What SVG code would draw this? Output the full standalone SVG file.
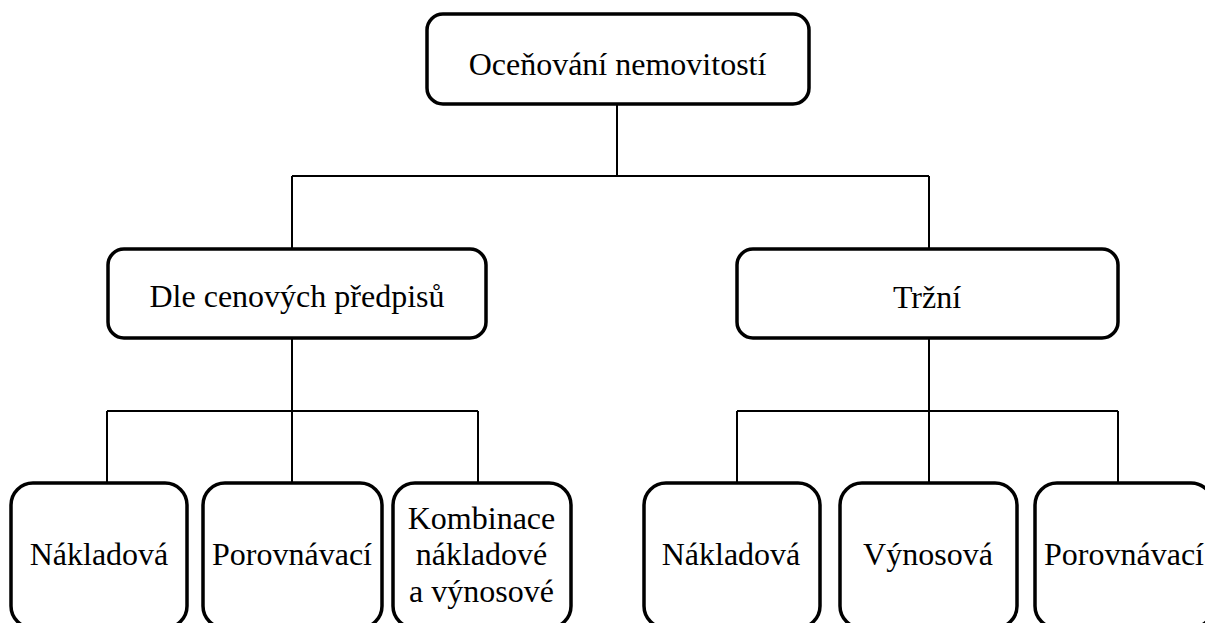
<svg xmlns="http://www.w3.org/2000/svg" width="1205" height="623" viewBox="0 0 1205 623">
<style>
.box{fill:#fff;stroke:#000;stroke-width:3.5}
.lbl{font-family:"Liberation Serif","Times New Roman",serif;font-size:32px;fill:#000;text-anchor:middle}
.con{fill:none;stroke:#000;stroke-width:2}
</style>
<rect width="1205" height="623" fill="#fff"/>
<g id="connectors">
<path class="con" d="M617 104V176M292 176H929M292 176V248M929 176V248"/>
<path class="con" d="M292 338V411M107 411H478M107 411V482M292 411V482M478 411V482"/>
<path class="con" d="M929 338V411M737 411H1118M737 411V482M929 411V482M1118 411V482"/>
</g>
<g id="n-root"><rect class="box" x="427" y="14" width="382" height="90" rx="16"/><text class="lbl" x="617.5" y="75">Oceňování nemovitostí</text></g>
<g id="n-dle"><rect class="box" x="108" y="249" width="378" height="89" rx="16"/><text class="lbl" x="297" y="307">Dle cenových předpisů</text></g>
<g id="n-trzni"><rect class="box" x="737" y="249" width="381" height="89" rx="16"/><text class="lbl" x="927" y="308">Tržní</text></g>
<g id="n-l1"><rect class="box" x="11" y="483" width="176" height="145" rx="22"/><text class="lbl" x="99" y="565">Nákladová</text></g>
<g id="n-l2"><rect class="box" x="203" y="483" width="179" height="145" rx="22"/><text class="lbl" x="292" y="565">Porovnávací</text></g>
<g id="n-l3"><rect class="box" x="393" y="483" width="178" height="145" rx="22"/><text class="lbl" x="481.5" y="529">Kombinace</text><text class="lbl" x="481.5" y="565">nákladové</text><text class="lbl" x="481.5" y="602">a výnosové</text></g>
<g id="n-r1"><rect class="box" x="644" y="483" width="176" height="145" rx="22"/><text class="lbl" x="731" y="565">Nákladová</text></g>
<g id="n-r2"><rect class="box" x="840" y="483" width="177" height="145" rx="22"/><text class="lbl" x="928" y="565">Výnosová</text></g>
<g id="n-r3"><rect class="box" x="1035" y="483" width="178" height="145" rx="22"/><text class="lbl" x="1124" y="565">Porovnávací</text></g>
</svg>
